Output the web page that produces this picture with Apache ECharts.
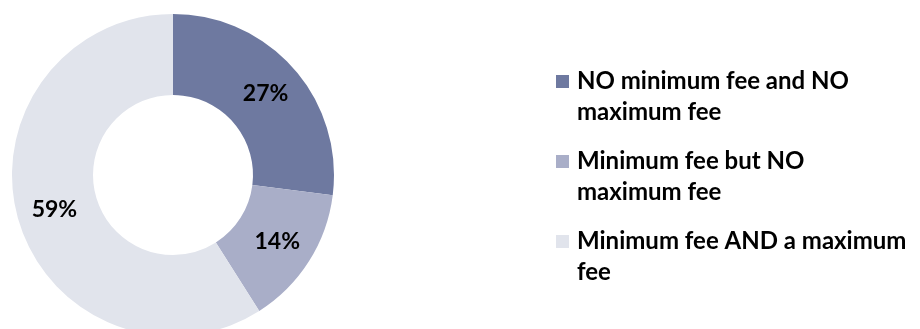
<!DOCTYPE html>
<html>
<head>
<meta charset="utf-8">
<script src="https://cdn.jsdelivr.net/npm/echarts@6/dist/echarts.min.js"></script>
<style>
  html, body { margin: 0; padding: 0; background: #fff; }
  #chart { width: 920px; height: 329px; }
</style>
</head>
<body>
<div id="chart"></div>
<script>
// categories and shares (%)
const categories = [
  'NO minimum fee and NO maximum fee',
  'Minimum fee but NO maximum fee',
  'Minimum fee AND a maximum fee'
]
const legendLabels = [
  'NO minimum fee and NO\nmaximum fee',
  'Minimum fee but NO\nmaximum fee',
  'Minimum fee AND a maximum\nfee'
]
const shares = [27, 14, 59]
const colors = ['#6e79a0', '#a9aec8', '#e1e4ec']

const chart = echarts.init(document.getElementById('chart'))
const option = {
  color: colors,
  animation: false,
  legend: {
    orient: 'vertical',
    left: 551,
    top: 30,
    itemWidth: 13,
    itemHeight: 13,
    itemGap: -13,
    icon: 'rect',
    selectedMode: false,
    data: categories,
    // leading blank line keeps the marker level with the first text line
    formatter: (name) => '\n' + legendLabels[categories.indexOf(name)],
    textStyle: {
      fontFamily: 'Lato',
      fontWeight: 'bold',
      fontSize: 24,
      lineHeight: 31,
      color: '#000',
      padding: [0, 0, 0, 3],
    },
  },
  series: [
    {
      type: 'pie',
      center: [173, 175],
      radius: [80, 161],
      startAngle: 90,
      clockwise: true,
      silent: true,
      label: {
        show: true,
        position: 'inside',
        formatter: '{c}%',
        fontFamily: 'Lato',
        fontWeight: 'bold',
        fontSize: 23,
        color: '#000',
      },
      labelLine: { show: false },
      data: categories.map((name, i) => ({ name: name, value: shares[i] })),
    },
  ],
}
chart.setOption(option)
</script>
</body>
</html>
